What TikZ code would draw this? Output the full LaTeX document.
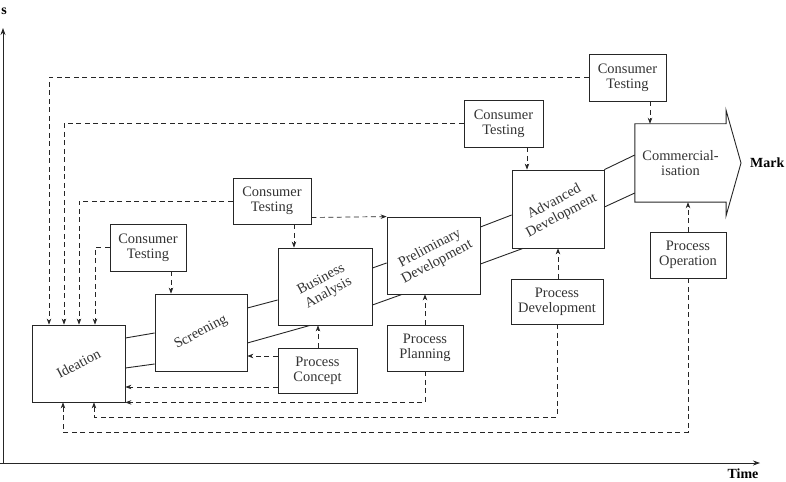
\documentclass[tikz,border=0pt]{standalone}
\usepackage{fontspec}
\setmainfont{Liberation Serif}
\usetikzlibrary{arrows.meta}
\begin{document}
\begin{tikzpicture}[x=1bp,y=-1bp,
  box/.style={draw=black!85, line width=0.8bp, inner sep=0pt, align=center,
    font=\fontsize{14.5}{15}\selectfont, text=black!80},
  tube/.style={draw=black!85, line width=0.9bp},
  dsh/.style={draw=black!85, line width=0.7bp, dash pattern=on 5bp off 3.5bp,
    -{Stealth[length=6bp,width=4.5bp]}},
  rtxt/.style={rotate=28, align=center, inner sep=0pt,
    font=\fontsize{14.5}{15.5}\selectfont, text=black!80},
  lbl/.style={inner sep=0pt, font=\fontsize{14}{14}\selectfont\bfseries},
  axis/.style={draw=black!85, line width=0.8bp, -{Stealth[length=7bp,width=5bp]}}]
\useasboundingbox (0,0) rectangle (786,482);

% axes
\coordinate (o) at (3,463);
\coordinate (ytop) at (3,28);
\coordinate (xend) at (760,463);
\coordinate (xstart) at (0,463);
\draw[axis] (o) -- (ytop);
\draw[axis] (xstart) -- (xend);
\node[lbl] (ylab) at (4,11) {s};
\node[lbl] (xlab) at (743,474) {Time};

% stage boxes
\node[box, minimum width=93bp, minimum height=77bp] (ide) at (78.5,363.5) {};
\node[box, minimum width=92bp, minimum height=77bp] (scr) at (201,332.5) {};
\node[box, minimum width=94bp, minimum height=77bp] (ba) at (325,286.5) {};
\node[box, minimum width=93bp, minimum height=77bp] (pd) at (433.5,255.5) {};
\node[box, minimum width=92bp, minimum height=78bp] (ad) at (558,209) {};
\node[inner sep=0pt, minimum width=91bp, minimum height=78bp, align=center,
  font=\fontsize{14.5}{15}\selectfont, text=black!80] (com) at (680.5,163)
  {Commercial-\\isation};
\draw[tube] (com.north west) -- (com.north east) -- (726,110) -- (741,163)
  -- (726,216) -- (com.south east) -- (com.south west) -- cycle;
\node[lbl, anchor=west] (mk) at (750,163) {Mark};

\node[rtxt] (ide-t) at (ide) {Ideation};
\node[rtxt] (scr-t) at (scr) {Screening};
\node[rtxt] (ba-t) at (ba) {Business\\Analysis};
\node[rtxt] (pd-t) at (pd) {Preliminary\\Development};
\node[rtxt] (ad-t) at (ad) {Advanced\\Development};

% side boxes
\node[box, minimum width=76bp, minimum height=47bp] (ct1) at (148,247.5) {Consumer\\Testing};
\node[box, minimum width=78bp, minimum height=46bp] (ct2) at (272,201) {Consumer\\Testing};
\node[box, minimum width=79bp, minimum height=47bp] (ct3) at (503.5,123.5) {Consumer\\Testing};
\node[box, minimum width=77bp, minimum height=47bp] (ct4) at (627.5,77.5) {Consumer\\Testing};
\node[box, minimum width=79bp, minimum height=45bp] (pc) at (317.5,370.5) {Process\\Concept};
\node[box, minimum width=76bp, minimum height=46bp] (pp) at (425,348) {Process\\Planning};
\node[box, minimum width=92bp, minimum height=45bp] (pdv) at (557,301.5) {Process\\Development};
\node[box, minimum width=76bp, minimum height=46bp] (po) at (688,255) {Process\\Operation};

% tube between stages
\draw[tube] (ide.east|-0,338) -- (scr.west|-0,333);
\draw[tube] (ide.east|-0,368) -- (scr.west|-0,364);
\draw[tube] (scr.east|-0,308) -- (ba.west|-0,300);
\draw[tube] (scr.east|-0,343) -- (ba.south-|310,0);
\draw[tube] (ba.east|-0,268) -- (pd.west|-0,263);
\draw[tube] (ba.east|-0,305) -- (pd.south-|402,0);
\draw[tube] (pd.east|-0,227) -- (ad.west|-0,215);
\draw[tube] (pd.east|-0,264) -- (ad.south-|523,0);
\draw[tube] (ad.north east) -- (com.west|-0,155);
\draw[tube] (ad.east|-0,207) -- (com.west|-0,193);

% consumer testing feedback
\draw[dsh] (ct4.west) -| (ide.north-|49,0);
\draw[dsh] (ct4.south-|650,0) -- (com.north-|650,0);
\draw[dsh] (ct3.west) -| (ide.north-|64,0);
\draw[dsh] (ct3.south-|527,0) -- (ad.north-|527,0);
\draw[dsh] (ct2.west) -| (ide.north-|79,0);
\draw[dsh] (ct2.east|-0,217.5) -- (pd.north west);
\draw[dsh] (ct2.south-|294,0) -- (ba.north-|294,0);
\draw[dsh] (ct1.west) -| (ide.north-|95,0);
\draw[dsh] (ct1.south-|171,0) -- (scr.north-|171,0);

% process feedback
\draw[dsh] (pc.west|-0,356) -- (scr.east|-0,356);
\draw[dsh] (pc.west|-0,387) -- (ide.east|-0,387);
\draw[dsh] (pc.north-|318,0) -- (ba.south-|318,0);
\draw[dsh] (pp.north) -- (pd.south-|425,0);
\draw[dsh] (pp.south) |- (ide.south east);
\draw[dsh] (pdv.north-|558,0) -- (ad.south-|558,0);
\draw[dsh] (pdv.south-|557,0) -- (557,417) -| (ide.south-|94,0);
\draw[dsh] (po.north) -- (com.south-|688,0);
\draw[dsh] (po.south) -- (688,432) -| (ide.south-|63,0);
\end{tikzpicture}
\end{document}
